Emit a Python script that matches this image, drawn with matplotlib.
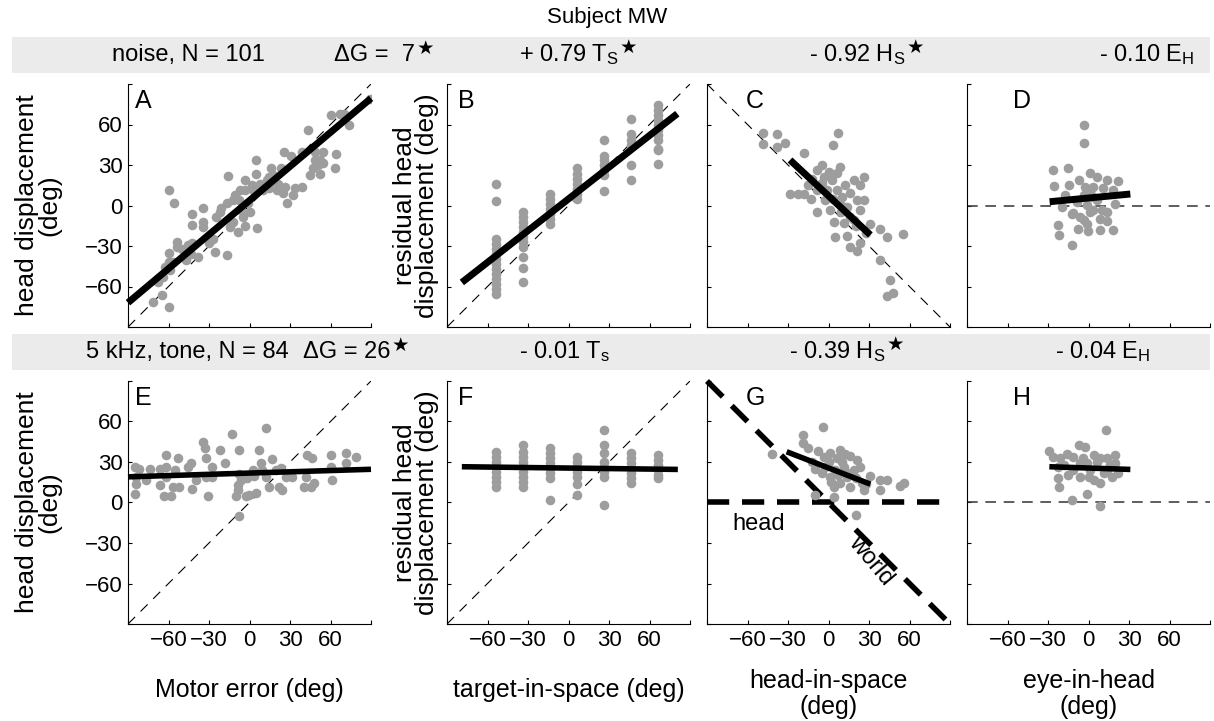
import matplotlib
matplotlib.use('Agg')
import matplotlib.pyplot as plt
from matplotlib.patches import Rectangle

plt.rcParams['font.family'] = ['Liberation Sans', 'DejaVu Sans']
plt.rcParams['mathtext.default'] = 'regular'

# ---- data (deg) ----
ticks = [-90, -60, -30, 0, 30, 60, 90]
tick_labels = ['', '\u221260', '\u221230', '0', '30', '60', '']
ytick_labels = ['', '\u221260', '\u221230', '0', '30', '60', '']

# A: head displacement vs motor error (noise)
a_x = [89, 67, 60, 74, 43.5, 39, 48.5, 54.7, 48.5, 54.7, 44.8, 63, 39, 25.5, 30.4, 23.7,
       15.6, 14.6, 14.6, 20, 25, 28, 32.4, 4.7, 4.7, -3.5, 1.5, -7, -3.5, -12, -7.6, 0.3,
       -4.7, -3.5, 5.7, -14.6, -12, -8.4, -17, -20.8, -24.5, -16, -22, -34.4, -34.4, -34.4,
       -27, -25.7, -17, -42.8, -42.8, -42.8, -45.5, -43, -46.7, -54, -54, -60, -57, -60,
       -62.8, -64, -59, -67.7, -65, -71.5, -60, -59.6, -56, -10.9, 2.7, 10, 12.6, 17.6,
       23.7, 21, 33.7, 26, 51, 47, 52, 52, -30, -38, -50, 8, -1, -6, 18, 64, 70]
a_y = [79, 67.5, 67, 60, 56, 40, 40, 40, 34, 31.6, 22.5, 28, 14, 40, 36.6, 28,
       28, 20.8, 12.6, 11.4, 9, 1.5, 7.6, 33.6, 23, 19, 15, 11.4, 11.4, 4.4, 4, -4.7,
       -8.4, -15, -17, -16, -12, -19.5, 2, -2, -8.4, 21.6, -5, -1.5, -12, -16,
       -24.5, -34.4, -37, -6.4, -14.6, -28, -29.4, -35.6, -40.6, -27, -30.7, -35, -41.8, -41.8,
       -45.5, -53, -47.5, -57, -66.5, -71.5, -75, 11.4, 2, 7.5, 11.4, 11.4, 18.8, 22.5,
       11.4, 16, 12.6, 14, 30, 28, 23.5, 33.6, -28, -38, -32, 16, 2, -3, 18, 38, 68]

# B: residual head displacement vs target-in-space (noise)
b_x = [-54, -54, -54, -54, -54, -54, -54, -54, -54, -54, -54, -54, -54, -54,
       -34, -34, -34, -34, -34, -34, -34, -34, -34, -34, -34,
       -14, -14, -14, -14, -14, -14, -14,
       6, 6, 6, 6, 6, 6, 6,
       26, 26, 26, 26, 26, 26, 26,
       46, 46, 46, 46, 46, 46,
       66, 66, 66, 66, 66, 66, 66, 66, 66, 66, 66]
b_y = [16, 3.2, -24.8, -28.5, -32, -36, -39.7, -43.4, -47, -50.8, -54.6, -58.3, -62, -65.7,
       -4.5, -8.2, -12, -15.6, -19.3, -23, -26.8, -30.5, -38.4, -46.4, -56.3,
       8.7, 5, 1.2, -2.5, -6.2, -10, -13.6,
       28, 23.5, 19.8, 16, 12.4, 8.7, 5,
       48.3, 37, 33.5, 29.7, 26, 22.3, 11,
       64, 52.8, 48.3, 44.6, 29.7, 19,
       74.4, 70.6, 67, 63.2, 59.5, 55.8, 52, 48.3, 42, 31, 41]

# C: residual head displacement vs head-in-space (noise)
c_x = [-48.3, -48.3, -37.9, -32.2, -37.9, -18, -28.5, -22.3, -18, -13, -8.2, -8.2, -8.2,
       6.7, 3.3, -3.7, 2.6, -1.2, 6.3, 10, 1.4, 9, 14, 21, 26, 23.6, 16, 4, 11.3, 5, 14,
       16, 21, 23.6, 30.5, 38.5, 43.5, 55.5, 38.5, 45.5, 43.5, 48, -4.9, -2.4, 6.3, 16,
       18.6, 23.6, 26, 8.8, 18.6, -12, -5, 0, 12, 10, -15, 3, 20, 28]
c_y = [53.5, 45.5, 52.8, 46, 43, 38.8, 8.5, 8.5, 8.5, 4.6, -4.6, 26.3, 11.5,
       53.5, 44.8, 21.4, 18.9, 11.5, 11.5, 6.6, -3.3, -4.6, -0.9, 4, 4, -3.3, -8.2, -12,
       -13, -23, -22.6, -30.5, -34, -28, -13.6, -17.5, -23, -21, -40.4, -55.2, -67, -64.6,
       16.4, 4, 23.8, 9, 18.9, 15.2, 21, 28.7, -10.7, 20, 30, 25, 15, 0, 15, 5, -15, -20]

# D: residual head displacement vs eye-in-head (noise)
d_x = [-3, -3, -26.3, -15.5, -25.8, -14.8, -6.7, 1.2, 6.2, 13.6, 22.2, 18.5, 1.2, -17.3,
       -19.8, -8.7, -1.4, 6.2, 19.8, -12.4, -6.2, 1.2, 8.6, 13.6, -1.4, -7.5, -0.1, 8.6,
       18.5, -22.9, -21.6, -12.4, -2.5, 3.7, 11, -3.7, 3.7, 9.9, 3.7, -11.2, -3.7, 13.6]
d_y = [59.6, 46.5, 26.3, 27.5, 14.5, 15.2, 18.9, 24.3, 21.4, 18.9, 18.2, 11.5, 10.2, 7.8,
       -0.9, 2.8, 0.4, 4.1, 1.1, -6.3, -8.7, -5, -9.9, -11.2, -13.6, -17.3, -18.6, -17.8,
       -17.8, -14.8, -22.2, -28.9, 14, 14, 12.7, 7.8, 6.6, -3.4, -3.4, -5.8, -10.7, -4.6]

# E: head displacement vs motor error (5 kHz tone)
e_x = [-85, -82, -84.4, -84, -85, -76.5, -73.4, -66.5, -66.5, -62, -61.7, -61.7, -63, -58,
       -56.8, -55, -52, -45.8, -43.3, -42.6, -34.7, -32, -33, -32, -30.8, -27.7, -27.7,
       -21.6, -17.9, -13, -7.6, -7.6, -8.8, -8.8, -6.4, -2.7, -1.5, 2.3, 3.5, 4.7, 7.2, 8.4,
       9.6, 12.1, 12.1, 14.5, 17, 19.5, 21.9, 23.1, 24.3, 26.8, 31.7, 40.3, 41.5, 42.8, 45.2,
       46.5, 47.7, 60, 60, 61.3, 71.2, 71.2, 78.6, -7.6, -10.1, -0.2, -53, -40]
e_y = [26.6, 24.6, 19, 13.6, 6, 16.5, 24.6, 24.6, 12.8, 35, 26.6, 19, 4.7, 4.7,
       11.6, 24, 11.6, 26.6, 29, 9.7, 45, 19, 40, 32.7, 4.7, 26.6, 19,
       38.8, 29, 50.7, 38.8, 21.4, 12.8, 9.2, 16.5, 4.7, 17.8, 24, 19.5, 6.7, 38.8, 29,
       24, 54.9, 19, 11.6, 32, 24, 11.6, 25.2, 9.2, 19, 19, 11.6, 19, 35.2, 11.6,
       32.7, 14.1, 35.2, 26.6, 16.5, 36.4, 29, 33.9, -10.1, 4.7, 5.9, 33, 17]

# F: residual head displacement vs target-in-space (5 kHz tone)
f_x = [-54, -54, -54, -54, -54, -54, -54, -54,
       -34, -34, -34, -34, -34, -34, -34, -34, -34,
       -14, -14, -14, -14, -14, -14, -14, -14,
       6, 6, 6, 6, 6, 6, 6,
       26, 26, 26, 26, 26, 26, 26, 26,
       46, 46, 46, 46, 46, 46, 46,
       66, 66, 66, 66, 66, 66]
f_y = [37.6, 33.9, 30.2, 26.5, 22.8, 19, 15.4, 11.7,
       42.5, 37.6, 33.9, 30.2, 26.5, 22.8, 19, 15.4, 11.7,
       40, 36.3, 32.6, 28.9, 25.2, 21.5, 17.8, 1.7,
       33.9, 30.2, 26.5, 22.8, 19, 13.6, 5.4,
       53.5, 42.5, 36.3, 30.2, 26.5, 22.8, 19, -1.7,
       36.3, 32.6, 28.9, 25.2, 21.5, 17.8, 14.1,
       35, 31.4, 27.7, 24, 20.3, 17.8]

# G: residual head displacement vs head-in-space (5 kHz tone)
g_x = [-42.1, -18.6, -18.6, -9.9, -4.1, 1.3, 6.3, 16.2, 21, 23.6, 30.5, 18.6, 13.7, 8.8,
       3.8, 1.3, -2.4, 3.8, 20.7, 26, 38.5, 43.5, 53, 55.8, 38.5, 25, 16.2, 11.3, -3.6,
       8.8, -12, -8, -5, 0, 5, 10, 14, 20, 12, 2, -10, 28, 7, -15]
g_y = [35.9, 50, 43.8, 5.4, 56.2, 36.4, 32.7, 34.4, 31.5, 26.5, 19.6, 24, 19, 14.1,
       11.6, 19, 26.5, 4.2, -9.3, 9.2, 17, 16.5, 12, 14.6, 9.2, 14.1, 11.6, 26.5, 33.9,
       38.8, 30, 38, 22, 30, 24, 30, 22, 18, 36, 15, 25, 14, 20, 40]

# H: residual head displacement vs eye-in-head (5 kHz tone)
h_x = [13.1, -29, -26, -21.2, -7.3, -2.4, 3.8, 8.7, 19.8, 19.8, 13.6, 17.3, 8.7, -1.1,
       -12.2, 8.7, -21.6, -22.4, -15, -11.2, -6.2, 0, 3.8, 11.2, -11.2, -16, -1.1, 6.3,
       -6.2, 13.6, -22.4, 1.3, -18, 16, 22, -4]
h_y = [53.5, 38, 34, 32.6, 42.5, 41.3, 35.2, 32.7, 35.2, 29, 24, 19, 14.1, 6.2,
       1.7, -2.4, 11.6, 17.8, 20.3, 24, 19, 19, 16.5, 21.5, 34, 36, 29, 30.2,
       29, 32.7, 26.5, 24, 28, 28, 22, 33]

# fitted regression lines (end points)
fit_x = [[-90, 90], [-79, 80.6], [-28.5, 31], [-28.8, 31],
         [-90, 90], [-79, 81], [-31, 31], [-29, 31]]
fit_y = [[-72, 79.4], [-57, 68], [33.7, -21.8], [2.8, 8.5],
         [19, 24.6], [26.5, 24.5], [37.6, 13.6], [26.5, 24.5]]

panel_x = [a_x, b_x, c_x, d_x, e_x, f_x, g_x, h_x]
panel_y = [a_y, b_y, c_y, d_y, e_y, f_y, g_y, h_y]
letters = ['A', 'B', 'C', 'D', 'E', 'F', 'G', 'H']

# banner texts: (left px, text, star)
banner_top = [(112, 'noise, N = 101', False), (334, '\u0394G =  7', True),
              (519, '+ 0.79 T$_S$', True), (809, '- 0.92 H$_S$', True),
              (1099, '- 0.10 E$_H$', False)]
banner_bot = [(86, '5 kHz, tone, N = 84', False), (303, '\u0394G = 26', True),
              (519, '- 0.01 T$_s$', False), (789, '- 0.39 H$_S$', True),
              (1055, '- 0.04 E$_H$', False)]

# ---- figure ----
W, H = 1214, 721
fig = plt.figure(figsize=(W / 100, H / 100), dpi=100)
bg = fig.add_axes([0, 0, 1, 1])
bg.set_xlim(0, W)
bg.set_ylim(H, 0)
bg.axis('off')

bg.text(607, 18, 'Subject MW', ha='center', va='center', fontsize=16)
for top, items in [(37, banner_top), (334, banner_bot)]:
    bg.add_patch(Rectangle((12, top), 1198, 36, color='#ebebeb', lw=0))
    for x, s, star in items:
        t = bg.text(x, top + 18, s, ha='left', va='center', fontsize=17)
        if star:
            bg.annotate('\u2605', xy=(1, 1), xycoords=t, xytext=(1, -4),
                        textcoords='offset points', ha='left', va='center',
                        fontsize=14)

SIDE = 243
lefts = [128, 447, 707, 967]
tops = [84, 381]
letter_x = [0.03, 0.045, 0.16, 0.19]

for i in range(8):
    row, col = divmod(i, 4)
    ax = fig.add_axes([lefts[col] / W, 1 - (tops[row] + SIDE) / H, SIDE / W, SIDE / H])
    ax.patch.set_alpha(0)
    for s in ['top', 'right']:
        ax.spines[s].set_visible(False)
    ax.set_xlim(-90, 90)
    ax.set_ylim(-90, 90)
    ax.set_xticks(ticks)
    ax.set_yticks(ticks)
    ax.tick_params(direction='in', length=3, labelsize=16, pad=4)
    ax.set_xticklabels(tick_labels if row == 1 else [])
    ax.set_yticklabels(ytick_labels if col == 0 else [])

    # reference lines
    if col in (0, 1):
        ax.plot([-90, 90], [-90, 90], color='k', lw=0.8, dashes=(9, 7))
    elif col == 2 and row == 0:
        ax.plot([-90, 90], [90, -90], color='k', lw=0.8, dashes=(9, 7))
    elif col == 2:
        ax.plot([-90, 90], [90, -90], color='k', lw=4, dashes=(4, 2.3), clip_on=False)
        ax.plot([-90, 90], [0, 0], color='k', lw=4, dashes=(4, 2.3))
        ax.text(-52, -16, 'head', ha='center', va='center', fontsize=17)
        ax.text(31, -43, 'world', ha='center', va='center', fontsize=17, rotation=-50)
    else:
        ax.plot([-90, 90], [0, 0], color='#333333', lw=1.1, dashes=(7, 5))

    ax.scatter(panel_x[i], panel_y[i], s=48, color='#9d9d9d', lw=0, zorder=3)
    ax.plot(fit_x[i], fit_y[i], color='k', lw=5 if row == 0 else 4,
            solid_capstyle='butt', zorder=4, clip_on=False)
    ax.text(letter_x[col], 0.93, letters[i], transform=ax.transAxes,
            fontsize=18, ha='left', va='center')

    if col == 0:
        ax.set_ylabel('head displacement\n(deg)', fontsize=19, labelpad=17,
                      linespacing=0.9)
    elif col == 1:
        ax.set_ylabel('residual head\ndisplacement (deg)', fontsize=19, labelpad=2,
                      linespacing=0.9)
    if row == 1:
        xl = ['Motor error (deg)', 'target-in-space (deg)',
              'head-in-space\n(deg)', 'eye-in-head\n(deg)'][col]
        ax.set_xlabel(xl, fontsize=18, labelpad=20 if col < 2 else 13,
                      linespacing=1.1)

fig.savefig('out.png', dpi=100)
